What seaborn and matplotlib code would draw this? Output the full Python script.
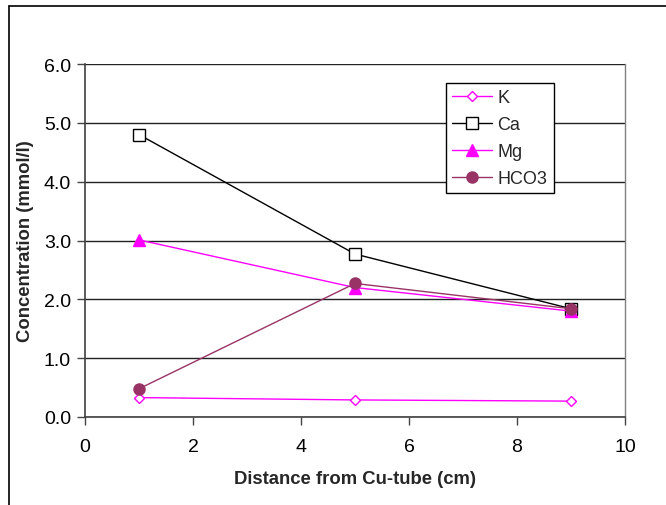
import matplotlib
matplotlib.use("Agg")
import matplotlib.pyplot as plt
import seaborn as sns
import pandas as pd
from matplotlib.lines import Line2D

distance = [1, 5, 9]
K = [0.33, 0.29, 0.27]
Ca = [4.80, 2.77, 1.84]
Mg = [3.01, 2.20, 1.80]
HCO3 = [0.48, 2.27, 1.84]
series_names = ["K", "Ca", "Mg", "HCO3"]

rows = []
for name, vals in zip(series_names, [K, Ca, Mg, HCO3]):
    for d, v in zip(distance, vals):
        rows.append({"Distance": d, "Conc": v, "Ion": name})
df = pd.DataFrame(rows)

sns.set_theme(style="white")
plt.rcParams['font.family'] = ['Liberation Sans', 'DejaVu Sans']

fig = plt.figure(figsize=(6.66, 5.06), dpi=100)
ax = fig.add_axes([85/666, 1-418/506, 540/666, 353/506])

styles = {
    "K": dict(color="#FF00FF", marker="D", ms=5, mfc="white", mec="#FF00FF", mew=1.0),
    "Ca": dict(color="black", marker="s", ms=8, mfc="white", mec="black", mew=1.0),
    "Mg": dict(color="#FF00FF", marker="^", ms=9, mfc="#FF00FF", mec="#FF00FF", mew=1.0),
    "HCO3": dict(color="#993366", marker="o", ms=8, mfc="#993366", mec="#993366", mew=1.0),
}

for name in series_names:
    st = styles[name]
    sub = df[df["Ion"] == name]
    sns.lineplot(data=sub, x="Distance", y="Conc", ax=ax, color=st["color"],
                 linewidth=1.0, marker=st["marker"], markersize=st["ms"],
                 markerfacecolor=st["mfc"], markeredgecolor=st["mec"],
                 markeredgewidth=st["mew"], label=name, legend=False, zorder=3)

ax.set_xlim(0, 10)
ax.set_ylim(0, 6)
ax.set_xticks([0, 2, 4, 6, 8, 10])
ax.set_yticks([0, 1, 2, 3, 4, 5, 6])
ax.set_yticklabels([f"{v:.1f}" for v in [0, 1, 2, 3, 4, 5, 6]])
ax.yaxis.grid(True, color="#222222", linewidth=1.0)
ax.set_axisbelow(True)
ax.tick_params(axis="both", direction="out", length=6, width=1, color="#444444",
               labelsize=14, labelcolor="black", pad=4, bottom=True, left=True)
ax.tick_params(axis="x", pad=9)
for s in ["top", "right"]:
    ax.spines[s].set_color("#808080")
    ax.spines[s].set_linewidth(1.0)
for s in ["left", "bottom"]:
    ax.spines[s].set_color("#404040")
    ax.spines[s].set_linewidth(1.2)
ax.spines["top"].set_visible(False)

ax.set_xlabel("Distance from Cu-tube (cm)", fontsize=13.3, fontweight="bold", labelpad=11)
ax.set_ylabel("Concentration (mmol/l)", fontsize=13.3, fontweight="bold", labelpad=7)

handles = []
for name in series_names:
    st = styles[name]
    handles.append(Line2D([0], [0], color=st["color"], linewidth=1.0, marker=st["marker"],
                          markersize=st["ms"], markerfacecolor=st["mfc"],
                          markeredgecolor=st["mec"], markeredgewidth=st["mew"]))
leg = ax.legend(handles, series_names, loc="upper left",
                bbox_to_anchor=((446-85)/540, (418-84)/353),
                frameon=True, fancybox=False, framealpha=1, edgecolor="black",
                fontsize=13, handlelength=2.2, handletextpad=0.3,
                labelspacing=0.55, borderpad=0.35, borderaxespad=0)
leg.get_frame().set_linewidth(1.0)
leg.set_zorder(5)

# chart area border (cropped Excel chart)
fig.add_artist(Line2D([9/666, 9/666], [0, 1-7/506], transform=fig.transFigure,
                      color="black", linewidth=1.2))
fig.add_artist(Line2D([9/666, 1], [1-7/506, 1-7/506], transform=fig.transFigure,
                      color="black", linewidth=1.2))

fig.savefig("out.png", dpi=100)
